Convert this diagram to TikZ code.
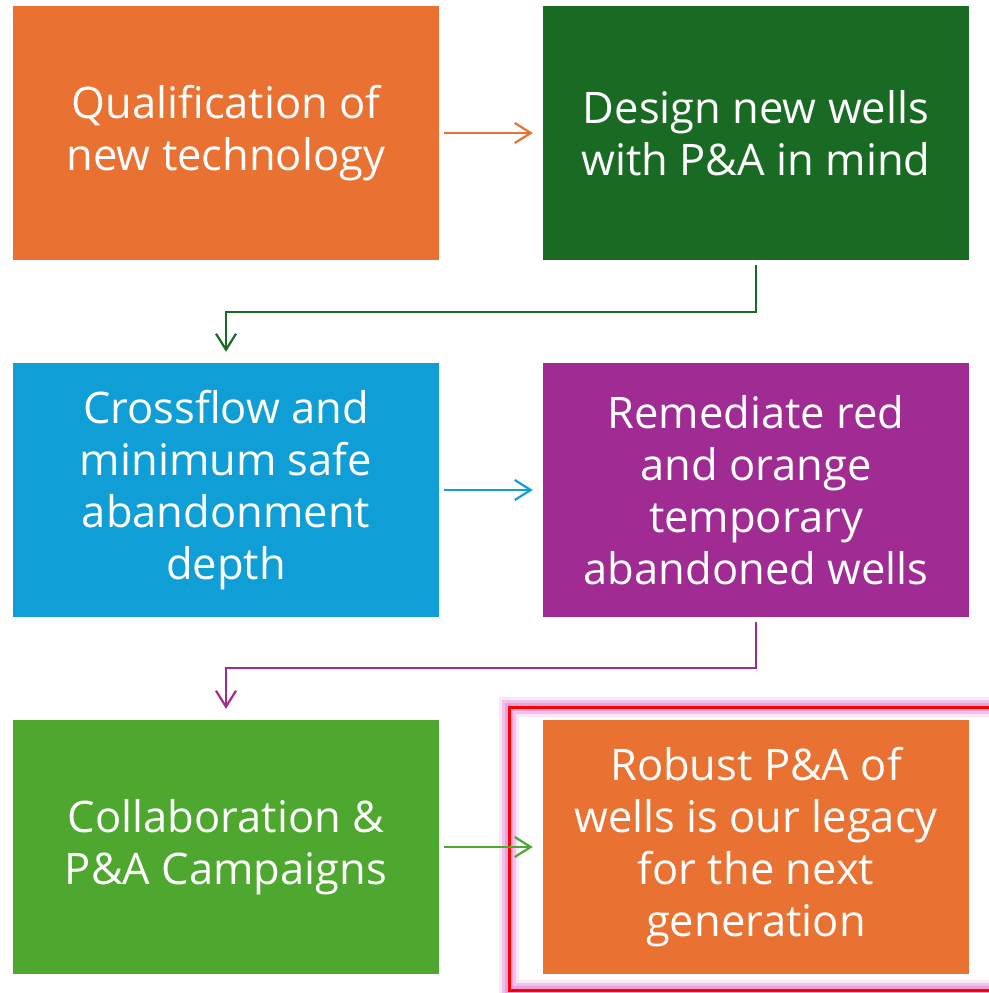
\documentclass[tikz,border=0pt]{standalone}
\usepackage{fontspec}
\setmainfont{Open Sans}
\usetikzlibrary{arrows.meta}
\definecolor{cOrange}{HTML}{E97132}
\definecolor{cDkGreen}{HTML}{196B24}
\definecolor{cBlue}{HTML}{0F9ED5}
\definecolor{cPurple}{HTML}{A02B93}
\definecolor{cGreen}{HTML}{4EA72E}
\definecolor{cGlow}{HTML}{E69CDC}
\begin{document}
\begin{tikzpicture}[x=1pt,y=-1pt,
  box/.style={draw=none, minimum width=426pt, minimum height=254pt, inner sep=0pt,
    text=white, align=center, font=\fontsize{43.5}{52}\selectfont},
  conn/.style={line width=2.2pt, -{Straight Barb[length=16pt,width=20pt,line width=2.2pt]}}]
\useasboundingbox (0,0) rectangle (988,993);
% glow frame
\draw[cGlow, line width=20pt, opacity=0.25] (509,707) rectangle (1000,990);
\draw[cGlow, line width=14pt, opacity=0.5] (509,707) rectangle (1000,990);
\draw[cGlow, line width=8pt, opacity=0.8] (509,707) rectangle (1000,990);
\draw[red, line width=3pt] (509,707) rectangle (1000,990);
\node[box, fill=cOrange] (b1) at (226,133) {Qualification of\\new technology};
\node[box, fill=cDkGreen] (b2) at (756,133) {Design new wells\\with P\&A in mind};
\node[box, fill=cBlue] (b3) at (226,490) {Crossflow and\\minimum safe\\abandonment\\depth};
\node[box, fill=cPurple] (b4) at (756,490) {Remediate red\\and orange\\temporary\\abandoned wells};
\node[box, fill=cGreen] (b5) at (226,847) {Collaboration \&\\P\&A Campaigns};
\node[box, fill=cOrange] (b6) at (756,847) {Robust P\&A of\\wells is our legacy\\for the next\\generation};
\draw[conn, cOrange] ([xshift=5pt]b1.east) -- ([xshift=-10pt]b2.west);
\draw[conn, cDkGreen] ([yshift=-5pt]b2.south) |- (226,312) -- ([yshift=11pt]b3.north);
\draw[conn, cBlue] ([xshift=5pt]b3.east) -- ([xshift=-10pt]b4.west);
\draw[conn, cPurple] ([yshift=-5pt]b4.south) |- (226,668) -- ([yshift=11pt]b5.north);
\draw[conn, cGreen] ([xshift=5pt]b5.east) -- ([xshift=-10pt]b6.west);
\end{tikzpicture}
\end{document}
